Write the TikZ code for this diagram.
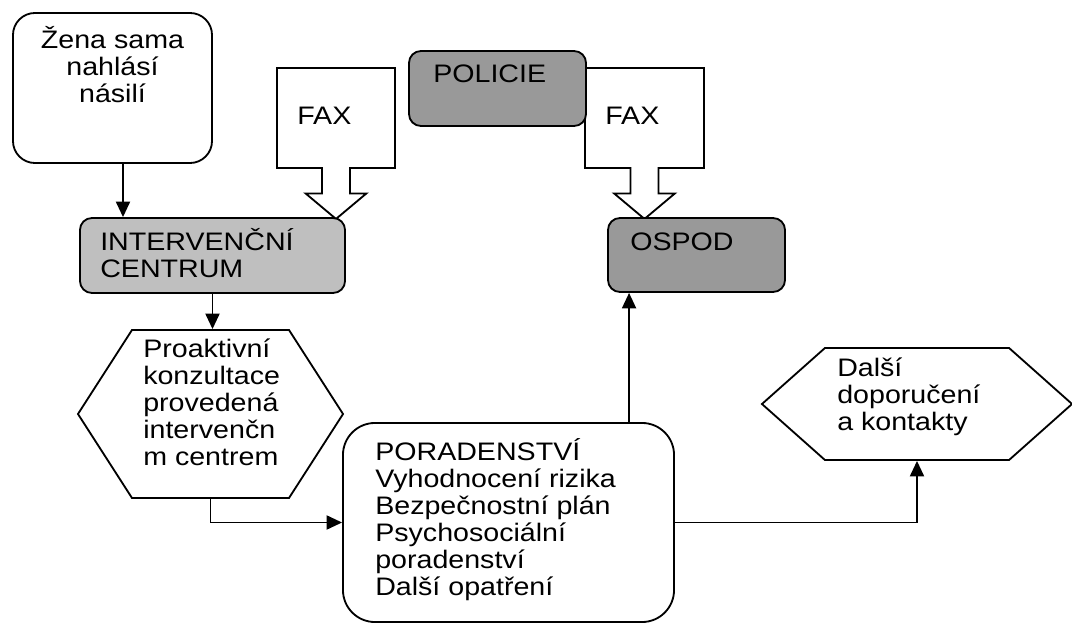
\documentclass[tikz,border=0pt]{standalone}
\usepackage{fontspec}
\setmainfont{Liberation Sans}[FakeStretch=1.13]
\usetikzlibrary{arrows.meta,calc,shapes.arrows,shapes.symbols}

\begin{document}
\begin{tikzpicture}[
    x=0.025cm, y=-0.025cm,
    box/.style  = {draw, line width=1.3pt, rounded corners=0.3cm, inner sep=0pt},
    hexa/.style = {draw, line width=1.3pt, signal, signal to=west and east, inner sep=0pt},
    fax/.style  = {draw, fill=white, line width=1.3pt, arrow box, inner sep=0pt,
                   minimum height=2.5cm, arrow box arrows={south:1.25cm},
                   arrow box shaft width=0.7cm, arrow box head extend=0.41cm,
                   arrow box tip angle=100},
    txt/.style  = {inner sep=0pt, align=left, anchor=base west,
                   font=\fontsize{18}{19.2}\selectfont},
    conn/.style = {line width=1.3pt, -{Triangle[length=11pt,width=10pt]}}
  ]
    \useasboundingbox (0,0) rectangle (1072,623);

    %% ---- top row ----
    \node[box, rounded corners=0.55cm, minimum width=4.975cm, minimum height=3.75cm]
      (zena) at (112.5,88) {};
    \node[fax, minimum width=2.95cm]  (fax1) at (336,118)   {};
    \node[fax, minimum width=2.975cm] (fax2) at (644.5,118) {};
    \node[box, fill=black!40, minimum width=4.425cm, minimum height=1.875cm]
      (policie) at (497.5,88.5) {};

    %% ---- second row ----
    \node[box, fill=black!25, minimum width=6.625cm, minimum height=1.875cm]
      (ic) at (212.5,255.5) {};
    \node[box, fill=black!40, minimum width=4.425cm, minimum height=1.85cm]
      (ospod) at (696.5,255) {};

    %% ---- lower part ----
    \node[hexa, signal pointer angle=114.5, minimum width=6.625cm, minimum height=4.2cm]
      (proakt) at (210.5,414) {};
    \node[box, rounded corners=0.8cm, minimum width=8.275cm, minimum height=4.975cm]
      (porad) at (508.5,522.5) {};
    \node[hexa, signal pointer angle=83.3, minimum width=7.75cm, minimum height=2.8cm]
      (dalsi) at (917,404) {};

    %% ---- texts (base = last line) ----
    \node[txt, anchor=base, align=center] (zenatxt) at (112.5,103)
      {Žena sama\\nahlásí\\násilí};
    \node[txt] (faxtxt1) at (297,125) {FAX};
    \node[txt] (faxtxt2) at (605,125) {FAX};
    \node[txt] (poltxt)  at (433,83)  {POLICIE};
    \node[txt] (ictxt)   at (100,277) {INTERVENČNÍ\\CENTRUM};
    \node[txt] (ospodtxt) at (630,250) {OSPOD};
    \node[txt] (proakttxt) at (143,465)
      {Proaktivní\\konzultace\\provedená\\intervenčn\\m centrem};
    \node[txt] (poradtxt) at (375,595)
      {PORADENSTVÍ\\Vyhodnocení rizika\\Bezpečnostní plán\\Psychosociální\\poradenství\\Další opatření};
    \node[txt] (dalsitxt) at (837,430) {Další\\doporučení\\a kontakty};

    %% ---- connectors ----
    \draw[conn] ($(zena.south)+(10.5,0)$) coordinate (z1) -- (z1 |- ic.north);
    \draw[conn] (ic.south) -- (ic.south |- proakt.north);
    \draw[conn] (proakt.south) |- (porad.west);
    \draw[conn] (porad.east) -| (dalsi.south);
    \coordinate (o1) at ($(ospod.south west)+(22,0)$);
    \draw[conn] (o1 |- porad.north) -- (o1);
  \end{tikzpicture}
\end{document}
